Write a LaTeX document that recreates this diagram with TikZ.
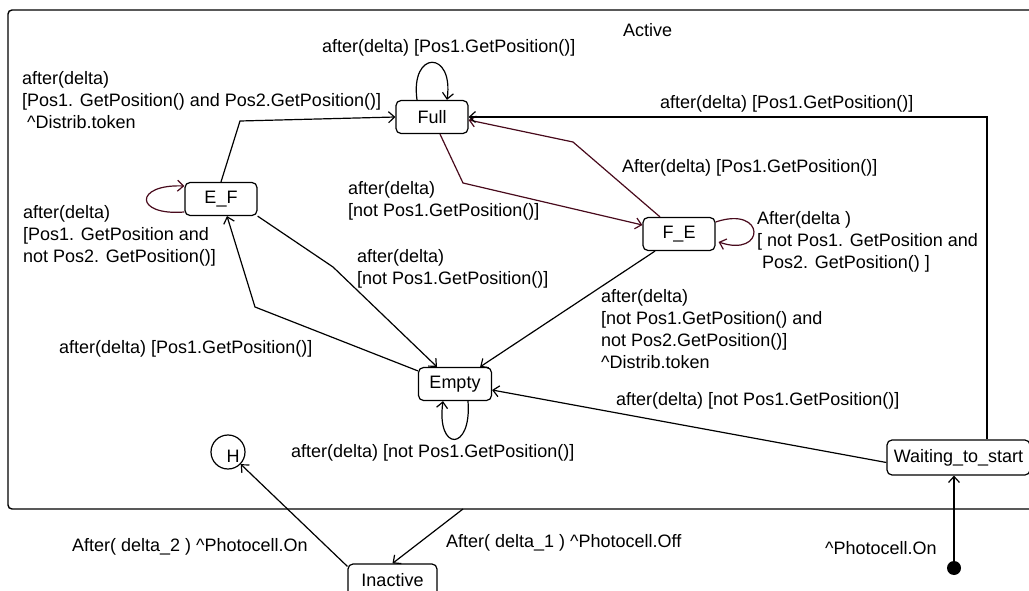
\documentclass[tikz,border=0pt]{standalone}
\usepackage{fontspec}
\setmainfont{Liberation Sans}
\usetikzlibrary{arrows.meta}
\definecolor{loopred}{RGB}{72,10,28}
\begin{document}
\begin{tikzpicture}[x=1pt,y=-1pt,
  every node/.style={font=\fontsize{18}{22}\selectfont},
  state/.style={draw, line width=1.2pt, rounded corners=5pt, inner sep=0pt, minimum height=33pt},
  lbl/.style={inner sep=0pt, anchor=west, align=left},
  arr/.style={line width=1.2pt, -{Straight Barb[length=6pt,width=11pt,line width=1.2pt]}},
  darr/.style={arr, draw=loopred}]
\useasboundingbox (0,0) rectangle (1029,591);
\clip (0,0) rectangle (1029,591);

% composite state
\node[draw, line width=1.4pt, rounded corners=4pt, minimum width=1040pt, minimum height=499pt, inner sep=0pt]
  (Active) at (528,259.5) {};
\node[lbl] (activename) at (623,30) {Active};

% states
\node[state, minimum width=72pt] (Full)  at (432,117) {Full};
\node[state, minimum width=72pt] (EF)    at (221,199) {E\_F};
\node[state, minimum width=72pt] (FE)    at (679,234) {F\_E};
\node[state, minimum width=73pt] (Empty) at (455,384) {Empty};
\node[state, minimum width=143pt, minimum height=35pt] (Wait) at (958.5,457.5) {Waiting\_to\_start};
\node[state, minimum width=89pt] (Inactive) at (392.5,580.5) {Inactive};
\node[draw, circle, line width=1.2pt, minimum size=34pt, inner sep=0pt] (H) at (228,452) {};
\node[inner sep=0pt] (Hname) at (233,456) {H};
\node[circle, fill=black, minimum size=14pt, inner sep=0pt] (init) at (954,568) {};
\coordinate (actout) at (463,509);

% transitions
\draw[arr] ([xshift=-15pt]Full.north) .. controls (410,50) and (454,50) .. ([xshift=15pt]Full.north);
\draw[arr] (EF.north) -- (240,121) -- (Full.west);
\draw[darr] ([yshift=-13pt]EF.west) .. controls (134,216) and (134,184) .. ([yshift=13pt]EF.west);
\draw[darr] ([xshift=8pt]Full.south) -- (463,183) -- ([yshift=9pt]FE.west);
\draw[darr] ([xshift=-19pt]FE.north) -- (573,142) -- ([yshift=-3pt]Full.east);
\draw[darr] ([yshift=12pt]FE.east) .. controls (766,205) and (766,258) .. ([xshift=3pt,yshift=-8pt]FE.east);
\draw[arr] ([xshift=28.5pt]Wait.north) |- (Full.east);
\draw[arr] ([xshift=-24pt]FE.south) -- ([xshift=-12pt]Empty.north east);
\draw[arr] (EF.south east) -- (333,267) -- ([xshift=-18pt]Empty.north);
\draw[arr] ([yshift=-4pt]Empty.north west) -- (255,307) -- ([xshift=6pt]EF.south);
\draw[arr] ([xshift=13pt]Empty.south) .. controls (472,452) and (436,452) .. ([xshift=-12pt]Empty.south);
\draw[arr] ([yshift=-5pt]Wait.west) -- ([yshift=-6pt]Empty.east);
\draw[arr] (actout) -- ([xshift=0pt]Inactive.north);
\draw[arr] ([yshift=-3pt]Inactive.north west) -- (H);
\draw[arr] (init) -- (init |- Wait.south);

% transition labels
\node[lbl] (t1) at (322,48) {after(delta) [Pos1.GetPosition()]};
\node[lbl] (t2) at (22,100.5) {after(delta)\\{}[Pos1. GetPosition() and Pos2.GetPosition()]\\\hspace{5pt}\^{}Distrib.token};
\node[lbl] (t3) at (660,104) {after(delta) [Pos1.GetPosition()]};
\node[lbl] (t4) at (622,168) {After(delta) [Pos1.GetPosition()]};
\node[lbl] (t5) at (348,201) {after(delta)\\{}[not Pos1.GetPosition()]};
\node[lbl] (t6) at (23,236) {after(delta)\\{}[Pos1. GetPosition and\\not Pos2. GetPosition()]};
\node[lbl] (t7) at (357,268.5) {after(delta)\\{}[not Pos1.GetPosition()]};
\node[lbl] (t8) at (757,242) {After(delta )\\{}[ not Pos1. GetPosition and\\\hspace{5pt}Pos2. GetPosition() ]};
\node[lbl] (t9) at (601,329) {after(delta)\\{}[not Pos1.GetPosition() and\\not Pos2.GetPosition()]\\\^{}Distrib.token};
\node[lbl] (t10) at (59,349) {after(delta) [Pos1.GetPosition()]};
\node[lbl] (t11) at (616,401) {after(delta) [not Pos1.GetPosition()]};
\node[lbl] (t12) at (291,453) {after(delta) [not Pos1.GetPosition()]};
\node[lbl] (t13) at (72,547) {After( delta\_2 ) \^{}Photocell.On};
\node[lbl] (t14) at (446,543) {After( delta\_1 ) \^{}Photocell.Off};
\node[lbl] (t15) at (825,548) {\^{}Photocell.On};
\end{tikzpicture}
\end{document}
